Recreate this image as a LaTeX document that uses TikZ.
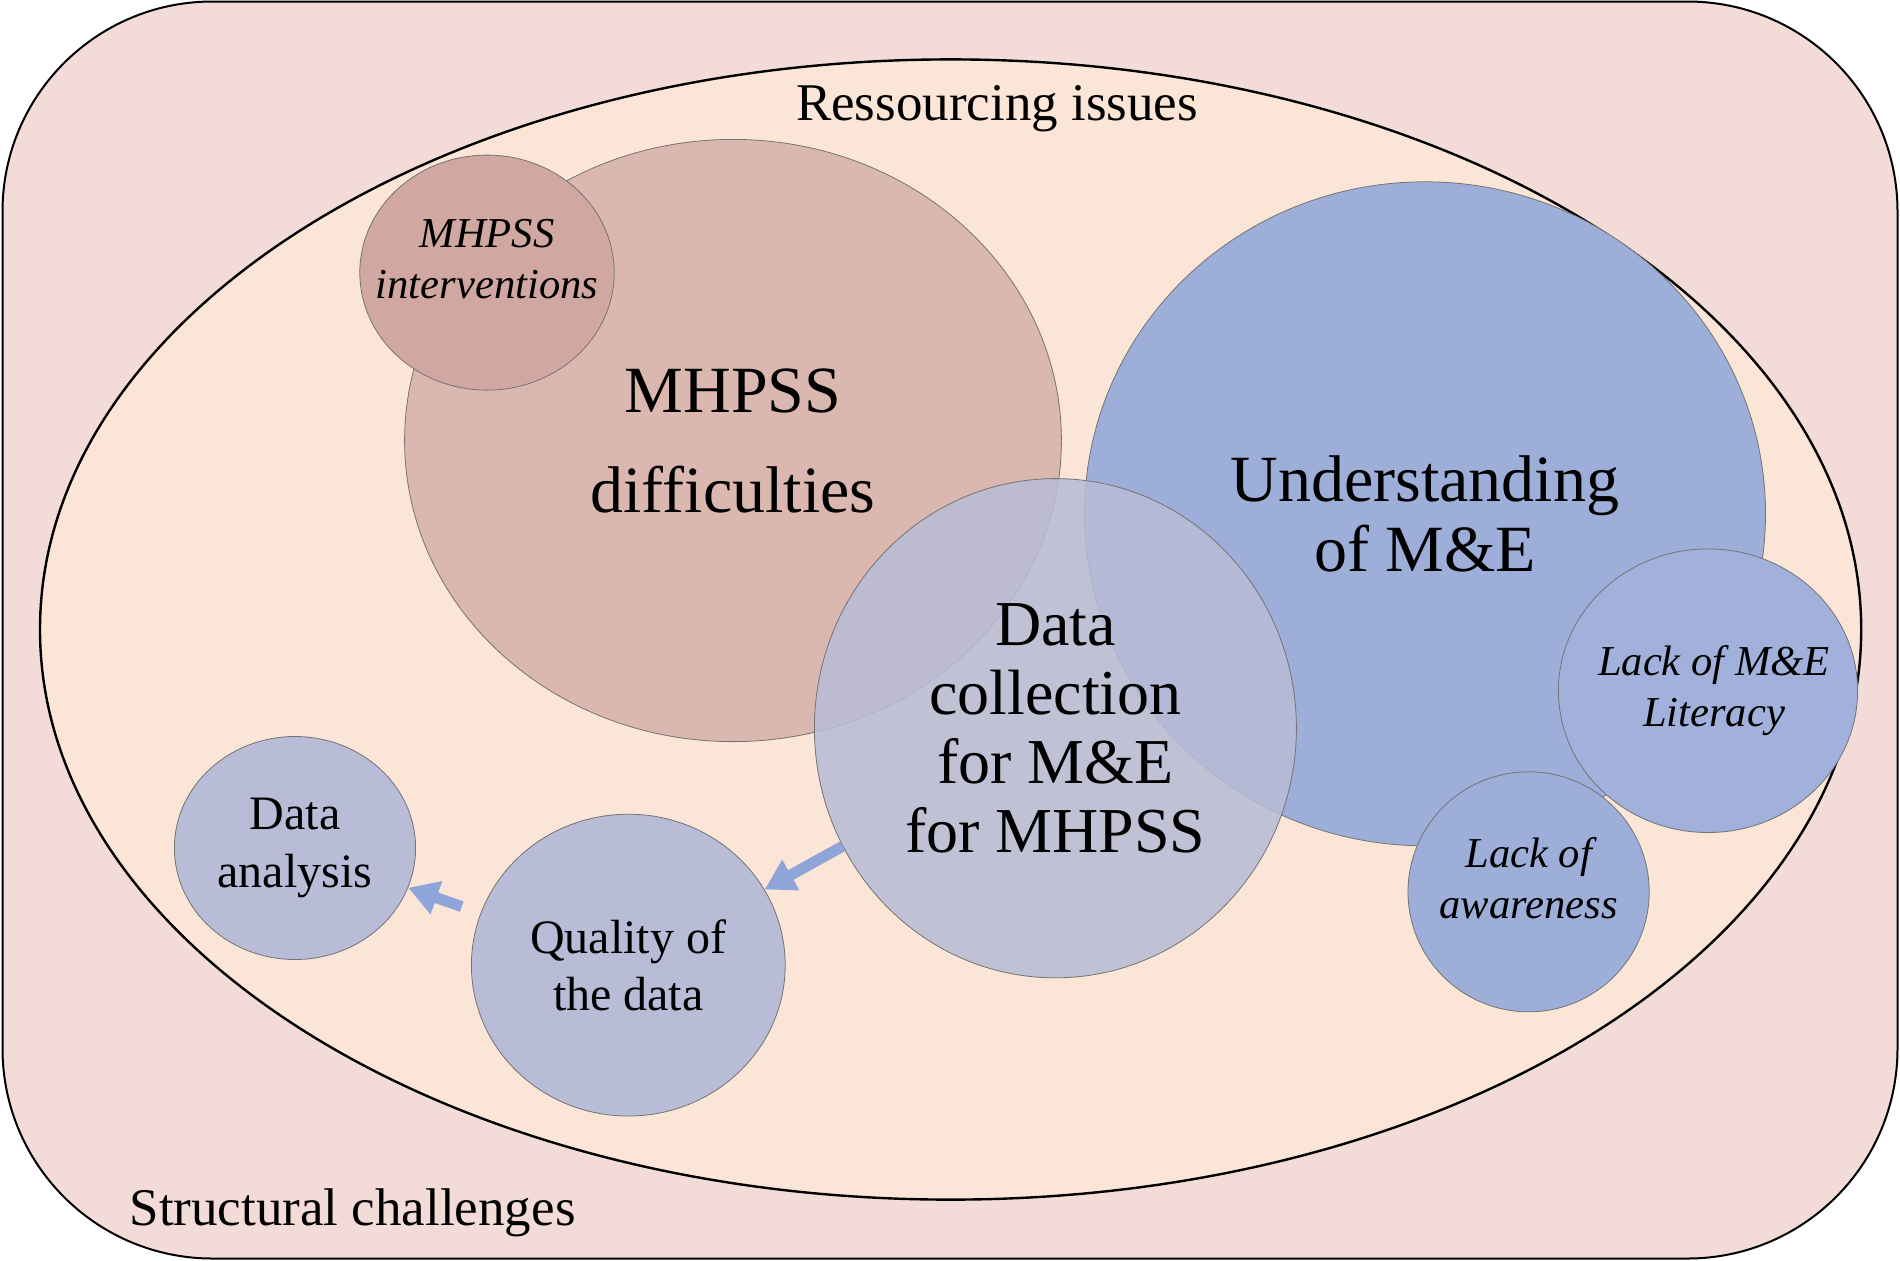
\documentclass[tikz,border=0pt]{standalone}
\usepackage{fontspec}
\setmainfont{Liberation Serif}
\usetikzlibrary{calc, shapes, arrows.meta}
\usepackage{xcolor}

\definecolor{outerbg}{HTML}{F3DCD8}
\definecolor{innerbg}{HTML}{FBE5D7}
\definecolor{mhpsscol}{HTML}{DBB8AF}
\definecolor{intervcol}{HTML}{D0A8A1}
\definecolor{mecol}{HTML}{9DAED9}
\definecolor{datacol}{HTML}{B8BCD6}
\definecolor{arrowcol}{HTML}{8FA4D9}

\begin{document}
\begin{tikzpicture}[x=0.5pt, y=-0.5pt]
	\tikzset{bubble/.style={ellipse, draw=black!55, line width=0.4pt, inner sep=0pt, align=center}}
	\tikzset{headtxt/.style={font=\fontsize{26.5}{30}\selectfont}}
	\tikzset{ittxt/.style={font=\fontsize{21.3}{25.5}\itshape\selectfont, align=center}}
	\tikzset{fatarrow/.style={draw=arrowcol, line width=5.5pt, -{Triangle[width=16.5pt, length=15pt]}}}
	\useasboundingbox (0,0) rectangle (1900,1260);
	% frames
	\draw[fill=outerbg, line width=1pt, rounded corners=105pt] (2.5,1.5) rectangle (1897.5,1258.5);
	\draw[fill=innerbg, line width=1.2pt] (950.6,629.5) ellipse [x radius=910.6, y radius=570.1];
	\node[headtxt] (resource) at (997,109) {Ressourcing issues};
	\node[headtxt] (struct) at (352.6,1213) {Structural challenges};
	% bubbles
	\node[bubble, fill=mhpsscol, minimum width=328.4pt, minimum height=301.1pt, font=\fontsize{33}{50}\selectfont] (diff) at (733,440.5) {MHPSS\\difficulties};
	\node[bubble, fill=intervcol, minimum width=127.2pt, minimum height=117.5pt,
		label={[ittxt, yshift=7pt]center:MHPSS\\interventions}] (interv) at (487,272.6) {};
	\node[bubble, fill=mecol, minimum width=340.5pt, minimum height=332pt, font=\fontsize{33}{35}\selectfont] (underst) at (1425,513.8) {Understanding\\of M\&E};
	\node[bubble, fill=mecol!96!white, minimum width=149.6pt, minimum height=141.8pt,
		label={[ittxt, xshift=3pt]center:Lack of M\&E\\Literacy}] (literacy) at (1708,690.7) {};
	\node[bubble, fill=mecol, minimum width=120.6pt, minimum height=120pt,
		label={[ittxt, yshift=7pt]center:Lack of\\awareness}] (aware) at (1528.6,891.8) {};
	\node[bubble, fill=datacol, fill opacity=0.86, text opacity=1, minimum width=241pt, minimum height=249.6pt, font=\fontsize{32}{34.5}\selectfont] (datacoll) at (1055.4,728.2) {Data\\collection\\for M\&E\\for MHPSS};
	\node[bubble, fill=datacol, minimum width=120.6pt, minimum height=111.5pt, font=\fontsize{24}{29}\selectfont] (analysis) at (295,848) {Data\\analysis};
	\node[bubble, fill=datacol, minimum width=156.9pt, minimum height=150.9pt, font=\fontsize{24}{28.5}\selectfont] (quality) at (628.3,965.1) {Quality of\\the data};
	% arrows
	\draw[fatarrow] (datacoll) -- (quality);
	\draw[fatarrow, shorten <=10pt] (quality) -- (analysis);
\end{tikzpicture}
\end{document}
